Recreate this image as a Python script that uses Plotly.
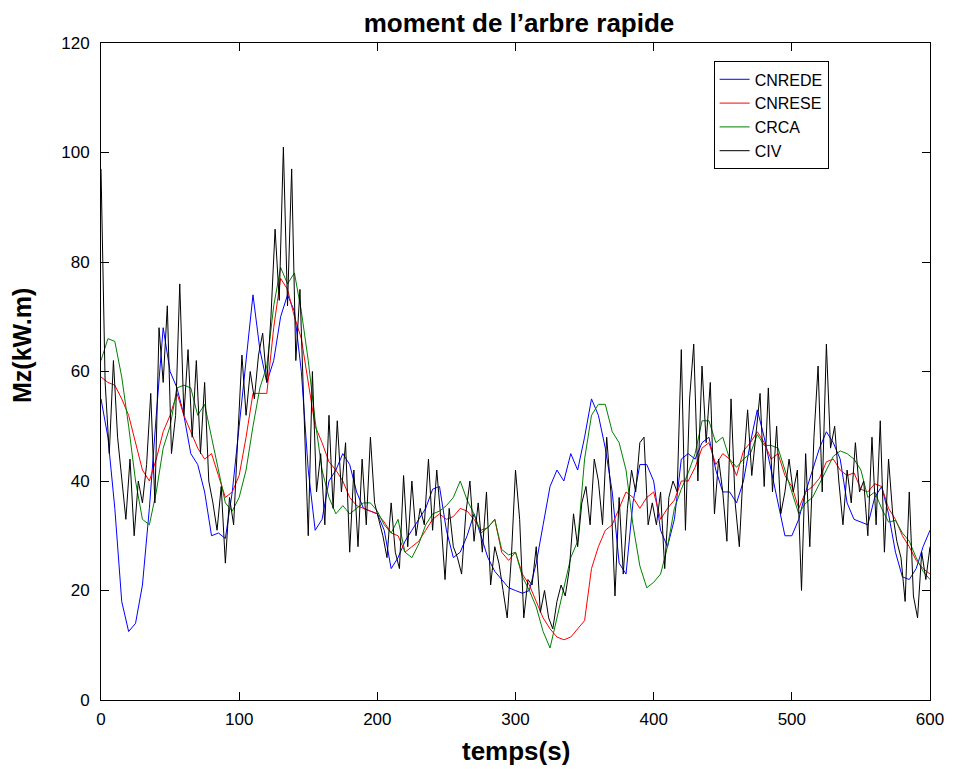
import plotly.graph_objects as go

# sampling grids (s)
t_smooth = list(range(0, 601, 5))
t_civ = list(range(0, 601, 3))

cnrede = [
    55, 48, 35, 18, 12.5, 14, 21, 35, 52, 68,
    60, 57, 52, 45, 43, 38, 30, 30.5, 29.5, 38,
    50, 62, 74, 64, 58, 62, 70, 74, 71, 60,
    42, 31, 33, 40, 42, 45, 43, 38, 35, 34.5,
    34, 31, 24, 26, 29, 31, 33, 35, 38.5, 39,
    31, 26, 27, 30, 34, 30, 26, 23.5, 22, 20.5,
    20, 19.5, 20, 25, 32, 39, 42, 40, 45, 42,
    48, 55, 52, 46, 38, 25, 23, 36, 43, 43,
    40, 31, 28, 33, 44, 45, 44, 47, 48, 42,
    38, 38, 36, 40, 47, 53, 48, 42, 36, 30,
    30, 33, 38, 42, 46, 49, 47, 44, 36, 33,
    32.5, 32, 37, 39, 34, 27, 22.5, 22, 24, 28,
    31,
]

cnrese = [
    59, 58, 57.5, 55, 52, 47, 42, 40, 44, 49,
    52, 56, 52, 49, 46, 44, 45, 41, 37, 38,
    41, 48, 56, 56, 56, 68, 77, 75, 70, 66,
    58, 50, 47, 43.5, 42, 40, 37, 35.5, 35, 34.5,
    34, 32.5, 30.5, 30, 27, 28, 29, 31, 33, 34,
    33, 33.5, 35, 34.5, 33, 31, 31.5, 33, 27, 25.5,
    27, 23, 21, 18, 15, 13, 11.5, 11, 11.5, 13,
    14.5, 24, 28, 31, 32, 35, 38, 37, 35, 37,
    38, 33, 35, 36.5, 40, 40, 42.5, 46, 47, 43,
    45, 44, 41, 45.5, 47, 49, 47, 44, 45, 41,
    39, 35, 38, 39, 40.5, 43.5, 44, 42, 41, 41.5,
    38.5, 38, 39.5, 39, 35, 33, 30, 28, 25.5, 24,
    23,
]

crca = [
    62, 66, 65.5, 59, 50, 40, 33, 32, 38, 46,
    50, 57, 57.5, 57, 52, 54, 48, 42, 36, 34.5,
    37, 42, 50, 57, 61, 72, 79, 76, 78, 71,
    62, 51, 42, 37, 34, 35.5, 34, 35, 36, 36,
    34.5, 32, 30.5, 33, 27, 26, 28.5, 32, 34, 34.5,
    35.5, 37, 40, 36.5, 34, 30.5, 31.5, 33, 27.5, 26.5,
    27, 22.5, 20, 17, 12.5, 9.5, 15, 21, 26, 29,
    44, 52, 54, 54, 49, 47, 42, 32, 24.5, 20.5,
    21.5, 23, 28, 35, 38.5, 41.5, 45, 51, 51, 47,
    48, 44, 42.5, 44, 45, 48.5, 46.5, 46.5, 46, 42,
    38, 34, 36, 37, 39.5, 42, 44.5, 45.5, 45, 44,
    42, 37, 38, 35, 32.5, 32.8, 30.5, 29, 26, 23.5,
    22,
]

civ = [
    97, 58, 45, 62, 48, 40, 33, 44, 30, 40,
    36, 43, 56, 36, 68, 58, 72, 45, 52, 76,
    52, 64, 48, 62, 45, 58, 40, 36, 31, 39,
    25, 37, 32, 48,
    63, 52, 60, 55, 63, 67, 58, 70, 86, 73,
    101, 72, 97, 62, 75, 52, 30, 60, 38, 45,
    32, 52, 35, 51, 38, 47, 27, 42, 28, 44,
    32, 48, 36,
    33, 30, 26, 36, 27, 24, 41, 28, 40, 30,
    35, 32, 44, 31, 42, 33, 22, 35, 28, 26,
    23, 34, 40, 29, 36, 27, 38, 21, 28, 25,
    20, 15, 26,
    42, 33, 15, 22, 21, 28, 16, 20, 15, 13,
    18, 21, 19, 24, 34, 28, 36, 39, 32, 44,
    40, 32, 48, 38, 19, 37, 23, 35, 42, 38,
    47, 48, 32, 36,
    32, 38, 24, 37, 40, 38, 64, 31, 55, 65,
    40, 61, 47, 58, 34, 44, 38, 29, 55, 36,
    28, 43, 53, 41, 48, 56, 39, 57, 38, 50,
    34, 38, 44,
    38, 42, 20, 45, 28, 48, 61, 38, 65, 46,
    50, 40, 32, 42, 36, 47, 38, 40, 30, 48,
    32, 51, 27, 44, 34, 29, 26, 18, 38, 19,
    15, 27, 22, 28,
]

FONT = "Liberation Sans, Arial, sans-serif"

fig = go.Figure()
fig.add_trace(go.Scatter(x=t_smooth, y=cnrede, mode="lines", name="CNREDE",
                         line=dict(color="#0000ff", width=1)))
fig.add_trace(go.Scatter(x=t_smooth, y=cnrese, mode="lines", name="CNRESE",
                         line=dict(color="#ff0000", width=1)))
fig.add_trace(go.Scatter(x=t_smooth, y=crca, mode="lines", name="CRCA",
                         line=dict(color="#008000", width=1)))
fig.add_trace(go.Scatter(x=t_civ, y=civ, mode="lines", name="CIV",
                         line=dict(color="#000000", width=1)))

axis_style = dict(
    showline=True, linecolor="black", linewidth=1, mirror="ticks",
    ticks="inside", ticklen=8, tickcolor="black",
    showgrid=False, zeroline=False,
    tickfont=dict(family=FONT, size=17, color="black"),
)

# the page body adds an 8px margin, so the figure is kept smaller than the window
fig.update_layout(
    width=948, height=761,
    margin=dict(l=93, r=20, t=35, b=69),
    paper_bgcolor="white", plot_bgcolor="white",
    font=dict(family=FONT, color="black"),
    title=dict(text="<b>moment de l’arbre rapide</b>", x=(93 + 418) / 948, xanchor="center",
               y=1 - 15 / 761, yanchor="middle", font=dict(size=26, family=FONT)),
    xaxis=dict(range=[0, 600], dtick=100, ticklabelstandoff=4, **axis_style),
    yaxis=dict(range=[0, 120], dtick=20, ticklabelstandoff=7, **axis_style),
    showlegend=True,
    legend=dict(x=0.739, y=0.972, xanchor="left", yanchor="top",
                bgcolor="white", bordercolor="black", borderwidth=1,
                font=dict(family=FONT, size=16)),
    annotations=[
        dict(text="<b>temps(s)</b>", x=0.5, y=0, xref="paper", yref="paper",
             xanchor="center", yanchor="top", yshift=-34, showarrow=False,
             font=dict(family=FONT, size=26)),
        dict(text="<b>Mz(kW.m)</b>", x=0, y=(692 - 338) / 657, xref="paper", yref="paper",
             xanchor="center", yanchor="middle", xshift=-79, textangle=-90,
             showarrow=False, font=dict(family=FONT, size=25)),
    ],
)

fig.write_html("out.html")
